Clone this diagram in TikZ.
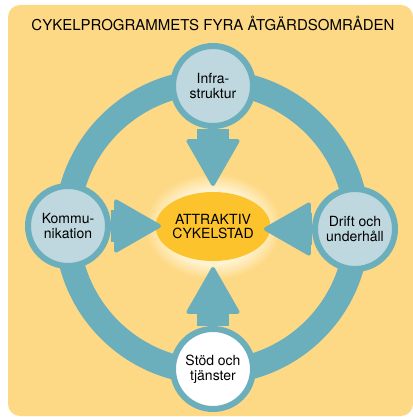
\documentclass[tikz,border=0pt]{standalone}
\usepackage{fontspec}
\setmainfont{TeX Gyre Heros}
\usetikzlibrary{arrows.meta,shapes.geometric}
\definecolor{bgY}{HTML}{FDD985}
\definecolor{tealC}{HTML}{6CAFBC}
\definecolor{lightB}{HTML}{BFD7DE}
\definecolor{goldC}{HTML}{FCC32D}
\definecolor{glowC}{HTML}{FFF3D2}
\pgfdeclareradialshading{halo}{\pgfpoint{0bp}{0bp}}{color(0bp)=(glowC); color(17.5bp)=(glowC); color(25bp)=(bgY); color(50bp)=(bgY)}
\begin{document}
\begin{tikzpicture}[x=1pt,y=-1pt,
  areabox/.style={circle, draw=tealC, line width=6pt, fill=lightB, minimum size=80pt,
    inner sep=0pt, align=center, font=\fontsize{14}{15}\selectfont},
  bigarrow/.style={tealC, line width=32pt,
    -{Triangle[width=55pt,length=49pt,round,line width=4pt]}},
]
\useasboundingbox (0,0) rectangle (412,417);
\fill[bgY, rounded corners=12pt] (8,5) rectangle (413,416);
\node[anchor=base, font=\fontsize{15}{17}\selectfont] (title) at (213,30.7)
  {CYKELPROGRAMMETS FYRA ÅTGÄRDSOMRÅDEN};
% glow
\shade[shading=halo] (213,226.5) ellipse [x radius=68pt, y radius=53pt];
% ring
\draw[tealC, line width=25pt] (212,227) circle [radius=145pt];
% nodes
\node[areabox] (infra) at (213,86) {Infra-\\struktur};
\node[areabox] (komm) at (68,226) {Kommu-\\nikation};
\node[areabox] (drift) at (355,229) {Drift och\\underhåll};
\node[areabox, fill=white] (stod) at (213,369) {Stöd och\\tjänster};
\node[ellipse, fill=goldC, minimum width=96pt, minimum height=69pt, inner sep=0pt,
  align=center, font=\fontsize{14}{14.5}\selectfont] (mid) at (213,226.5) {ATTRAKTIV\\CYKELSTAD};
% tips
\coordinate (tT) at (213,186);
\coordinate (tB) at (213,267);
\coordinate (tL) at (161,226);
\coordinate (tR) at (264,229);
\draw[bigarrow] (infra) -- (tT);
\draw[bigarrow] (stod) -- (tB);
\draw[bigarrow] (komm) -- (tL);
\draw[bigarrow] (drift) -- (tR);
\end{tikzpicture}
\end{document}
